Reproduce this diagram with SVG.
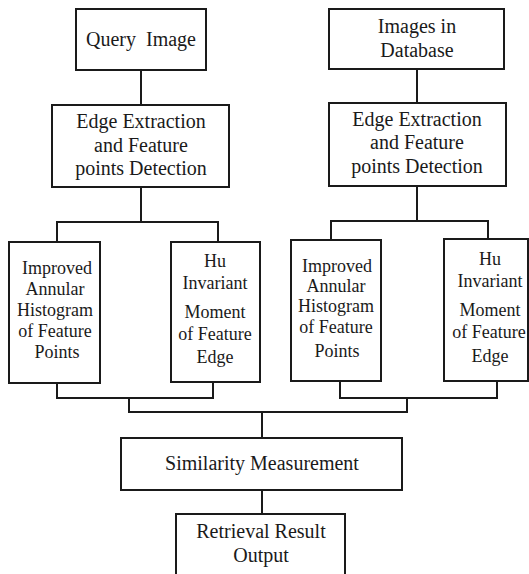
<svg xmlns="http://www.w3.org/2000/svg" width="529" height="574" viewBox="0 0 529 574">
<style>
.box{fill:#fff;stroke:#1a1a1a;stroke-width:2}
.ln{fill:none;stroke:#1a1a1a;stroke-width:2}
.t{font-family:"Liberation Serif","Times New Roman",serif;font-size:20px;fill:#1a1a1a;text-anchor:middle}
.s{font-family:"Liberation Serif","Times New Roman",serif;font-size:18px;fill:#1a1a1a;text-anchor:middle}
</style>
<rect width="529" height="574" fill="#fff"/>
<g id="connectors">
<path class="ln" d="M141 70V105"/>
<path class="ln" d="M417 69V103"/>
<path class="ln" d="M141 187V222M57 242V222H218V242"/>
<path class="ln" d="M417 186V221M331 240V221H488V239"/>
<path class="ln" d="M57 383V398H213V382"/>
<path class="ln" d="M340 381V398H497V381"/>
<path class="ln" d="M129 398V412H407V398"/>
<path class="ln" d="M262 412V438"/>
<path class="ln" d="M262 490V514"/>
</g>
<g id="query">
<rect class="box" x="76" y="9" width="130" height="61"/>
<text class="t" x="141" y="46">Query&#160;&#160;Image</text>
</g>
<g id="database">
<rect class="box" x="329" y="9" width="175" height="60"/>
<text class="t" x="417" y="33">Images in</text>
<text class="t" x="417" y="57">Database</text>
</g>
<g id="edge-left">
<rect class="box" x="52" y="105" width="177" height="82"/>
<text class="t" x="141" y="128">Edge Extraction</text>
<text class="t" x="141" y="152">and Feature</text>
<text class="t" x="141" y="175">points Detection</text>
</g>
<g id="edge-right">
<rect class="box" x="329" y="103" width="177" height="83"/>
<text class="t" x="417" y="126">Edge Extraction</text>
<text class="t" x="417" y="149">and Feature</text>
<text class="t" x="417" y="173">points Detection</text>
</g>
<g id="annular-left">
<rect class="box" x="9" y="242" width="91" height="141"/>
<text class="s" x="57" y="274">Improved</text>
<text class="s" x="55" y="295">Annular</text>
<text class="s" x="55" y="316">Histogram</text>
<text class="s" x="55" y="337">of Feature</text>
<text class="s" x="57" y="358">Points</text>
</g>
<g id="hu-left">
<rect class="box" x="171" y="242" width="89" height="140"/>
<text class="s" x="215" y="267">Hu</text>
<text class="s" x="215" y="289">Invariant</text>
<text class="s" x="215" y="318">Moment</text>
<text class="s" x="215" y="340">of Feature</text>
<text class="s" x="215" y="363">Edge</text>
</g>
<g id="annular-right">
<rect class="box" x="291" y="240" width="90" height="141"/>
<text class="s" x="337" y="272">Improved</text>
<text class="s" x="336" y="292">Annular</text>
<text class="s" x="336" y="312">Histogram</text>
<text class="s" x="336" y="333">of Feature</text>
<text class="s" x="337" y="357">Points</text>
</g>
<g id="hu-right">
<rect class="box" x="444" y="239" width="84" height="142"/>
<text class="s" x="490" y="265">Hu</text>
<text class="s" x="490" y="287">Invariant</text>
<text class="s" x="490" y="316">Moment</text>
<text class="s" x="489" y="338">of Feature</text>
<text class="s" x="490" y="362">Edge</text>
</g>
<g id="similarity">
<rect class="box" x="121" y="438" width="281" height="52"/>
<text class="t" x="262" y="470">Similarity Measurement</text>
</g>
<g id="retrieval">
<rect class="box" x="176" y="514" width="169" height="70"/>
<text class="t" x="261" y="538">Retrieval Result</text>
<text class="t" x="261" y="562">Output</text>
</g>
</svg>
